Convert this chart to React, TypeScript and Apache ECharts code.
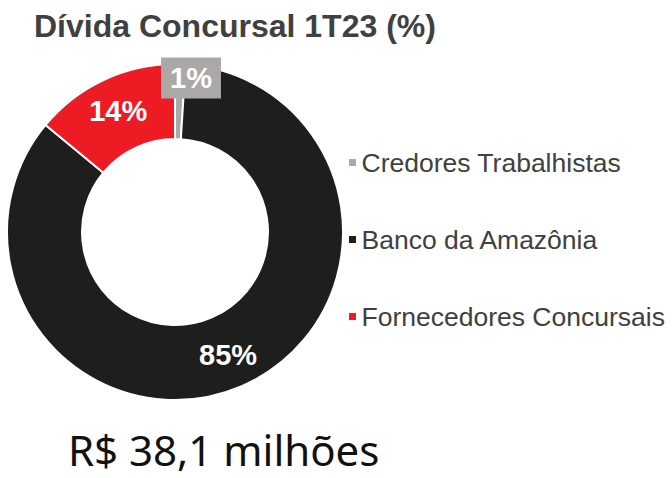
import React, { useEffect, useRef } from "react";
import * as echarts from "echarts";

const categories = ["Credores Trabalhistas", "Banco da Amazônia", "Fornecedores Concursais"];
const values = [1, 85, 14];
const colors = ["#ABA8A8", "#1E1E1C", "#ED1C24"];
const titleText = "Dívida Concursal 1T23 (%)";
const totalText = "R$ 38,1 milhões";

export default function App() {
  const ref = useRef<HTMLDivElement>(null);
  useEffect(() => {
    if (!ref.current) return;
    const chart = echarts.init(ref.current, null, { renderer: "svg" });
    chart.setOption({
      animation: false,
      backgroundColor: "#ffffff",
      title: [
        {
          text: titleText,
          left: 29,
          top: 5,
          textStyle: {
            fontFamily: "'Liberation Sans', Arial, sans-serif",
            fontSize: 32,
            fontWeight: "bold",
            color: "#404040",
          },
        },
        {
          text: totalText,
          left: 68,
          top: 428,
          padding: 0,
          textStyle: {
            fontFamily: "'Noto Sans', sans-serif",
            fontSize: 42,
            lineHeight: 42,
            fontWeight: "normal",
            color: "#111111",
          },
        },
      ],
      legend: {
        orient: "vertical",
        left: 343,
        top: 144,
        itemWidth: 8,
        itemHeight: 8,
        itemGap: 50,
        icon: "rect",
        data: categories,
        itemStyle: { borderColor: "#ffffff", borderWidth: 1 },
        textStyle: {
          fontFamily: "'Liberation Sans', Arial, sans-serif",
          fontSize: 26.5,
          color: "#404040",
          padding: [0, 0, 0, 0],
        },
      },
      series: [
        {
          type: "pie",
          center: [175, 232],
          radius: [93, 168],
          startAngle: 90,
          clockwise: true,
          avoidLabelOverlap: false,
          itemStyle: { borderColor: "#ffffff", borderWidth: 2 },
          label: {
            show: true,
            position: "inside",
            formatter: "{c}%",
            color: "#ffffff",
            fontFamily: "'Liberation Sans', Arial, sans-serif",
            fontSize: 29,
            fontWeight: "bold",
            overflow: "none",
          },
          labelLine: { show: false },
          labelLayout: (params: any) => {
            if (params.dataIndex === 0) {
              return { x: 191, y: 78, align: "center", verticalAlign: "middle" };
            }
            return {};
          },
          data: categories.map((name, i) => ({
            name,
            value: values[i],
            itemStyle: { color: colors[i] },
            label:
              i === 0
                ? {
                    backgroundColor: "#ABA8A8",
                    padding: [7, 9, 5, 9],
                    overflow: "none",
                  }
                : undefined,
          })),
        },
      ],
    });
    return () => chart.dispose();
  }, []);
  return (
    <div
      ref={ref}
      style={{ position: "fixed", left: 0, top: 0, width: 672, height: 478 }}
    />
  );
}
